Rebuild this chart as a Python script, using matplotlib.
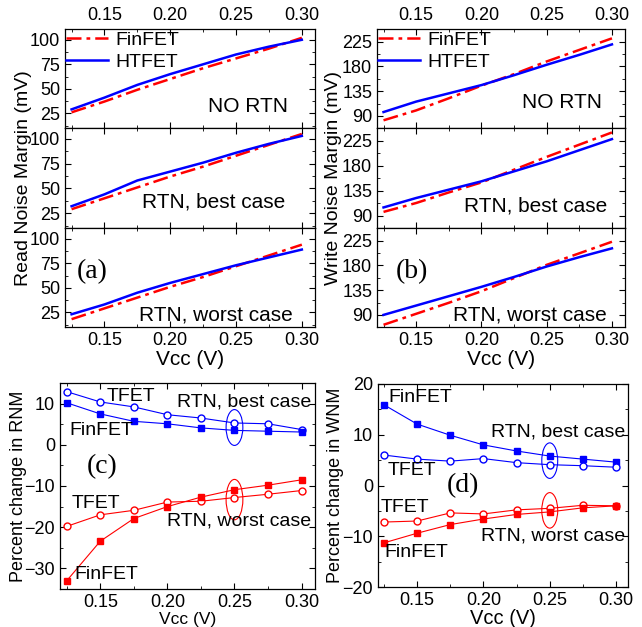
import numpy as np
import matplotlib
matplotlib.use("Agg")
import matplotlib.pyplot as plt
from matplotlib.patches import Ellipse
from matplotlib.ticker import MultipleLocator

plt.rcParams["font.family"] = ["Liberation Sans", "DejaVu Sans"]

# --- data ---
vcc = [0.125, 0.15, 0.175, 0.20, 0.225, 0.25, 0.275, 0.30]

# read noise margin (mV)
rnm_htfet_nortn = [29, 41, 54, 65, 75, 85, 93, 100]
rnm_finfet_nortn = [26, 37, 49, 60, 71, 81, 91, 102]
rnm_htfet_best = [32, 44, 58, 67, 76, 86, 95, 103]
rnm_finfet_best = [29, 40, 51, 62, 72, 83, 94, 105]
rnm_htfet_worst = [23, 33, 45, 55, 64, 73, 81, 89]
rnm_finfet_worst = [18, 29, 40, 51, 61, 72, 83, 94]

# write noise margin (mV)
wnm_htfet_nortn = [97, 116, 131, 146, 164, 183, 201, 220]
wnm_finfet_nortn = [82, 100, 122, 145, 166, 189, 210, 231]
wnm_htfet_best = [105, 122, 137, 152, 170, 188, 208, 228]
wnm_finfet_best = [97, 113, 132, 150, 173, 196, 218, 240]
wnm_htfet_worst = [90, 107, 124, 141, 159, 178, 195, 211]
wnm_finfet_worst = [72, 92, 112, 133, 157, 181, 202, 223]

# percent change in RNM
rnm_tfet_best_pct = [12.9, 10.4, 9.2, 7.3, 6.5, 5.3, 5.1, 3.7]
rnm_finfet_best_pct = [10.2, 7.5, 5.7, 5.1, 4.1, 3.5, 3.3, 3.1]
rnm_tfet_worst_pct = [-19.8, -17.0, -15.9, -13.9, -13.7, -12.8, -12.0, -11.1]
rnm_finfet_worst_pct = [-33.0, -23.4, -17.9, -15.0, -12.7, -10.9, -9.8, -8.5]

# percent change in WNM
wnm_finfet_best_pct = [15.9, 12.1, 9.9, 8.0, 6.8, 5.8, 5.2, 4.6]
wnm_tfet_best_pct = [6.0, 5.2, 4.8, 5.3, 4.5, 4.1, 3.9, 3.6]
wnm_tfet_worst_pct = [-7.2, -7.0, -5.4, -5.6, -4.8, -4.5, -3.9, -4.0]
wnm_finfet_worst_pct = [-11.3, -9.4, -7.7, -6.6, -5.7, -5.2, -4.4, -4.0]

case_labels = ["NO RTN", "RTN, best case", "RTN, worst case"]

RED = "#ff0000"
BLUE = "#0000ff"
W, H = 642, 627

fig = plt.figure(figsize=(W / 100, H / 100), dpi=100)


def px_axes(left, top, right, bottom):
    return fig.add_axes([left / W, 1 - bottom / H, (right - left) / W, (bottom - top) / H])


def style(ax, ymajor, yminor):
    ax.xaxis.set_major_locator(MultipleLocator(0.05))
    ax.xaxis.set_minor_locator(MultipleLocator(0.025))
    ax.yaxis.set_major_locator(MultipleLocator(ymajor))
    ax.yaxis.set_minor_locator(MultipleLocator(yminor))
    ax.tick_params(which="both", direction="in", top=True, right=True, labelsize=13)
    ax.tick_params(which="major", length=4)
    ax.tick_params(which="minor", length=2.5)
    for s in ax.spines.values():
        s.set_linewidth(0.9)


# --- top stacks (a) and (b) ---
tops = [29, 128, 228, 327]
stacks = [
    dict(left=65, right=315, ylim=(10, 111), ymaj=25, ymin=12.5,
         rows=[(rnm_finfet_nortn, rnm_htfet_nortn),
               (rnm_finfet_best, rnm_htfet_best),
               (rnm_finfet_worst, rnm_htfet_worst)],
         lab_pos=[(0.89, 0.16), (0.88, 0.2), (0.91, 0.07)],
         tag="(a)", tag_x=0.045, ylab="Read Noise Margin (mV)", ylab_x=24),
    dict(left=377, right=625, ylim=(68, 248), ymaj=45, ymin=22.5,
         rows=[(wnm_finfet_nortn, wnm_htfet_nortn),
               (wnm_finfet_best, wnm_htfet_best),
               (wnm_finfet_worst, wnm_htfet_worst)],
         lab_pos=[(0.907, 0.2), (0.927, 0.165), (0.927, 0.07)],
         tag="(b)", tag_x=0.075, ylab="Write Noise Margin (mV)", ylab_x=333),
]

for st in stacks:
    for i, (fin, ht) in enumerate(st["rows"]):
        ax = px_axes(st["left"], tops[i], st["right"], tops[i + 1])
        ax.plot(vcc, fin, color=RED, lw=1.8, ls=(0, (6, 2, 1.5, 2)), label="FinFET")
        ax.plot(vcc, ht, color=BLUE, lw=1.8, label="HTFET")
        ax.set_xlim(0.12, 0.31)
        ax.set_ylim(*st["ylim"])
        style(ax, st["ymaj"], st["ymin"])
        ax.tick_params(labelbottom=(i == 2), labeltop=(i == 0))
        tx, ty = st["lab_pos"][i]
        ax.text(tx, ty, case_labels[i], transform=ax.transAxes, ha="right",
                va="baseline", fontsize=15)
        if i == 0:
            ax.legend(loc="upper left", bbox_to_anchor=(-0.005, 1.0), frameon=False,
                      fontsize=14, handlelength=2.2, handletextpad=0.35,
                      borderaxespad=0, borderpad=0.1, labelspacing=0.25)
        if i == 2:
            ax.text(st["tag_x"], 0.56, st["tag"], transform=ax.transAxes, fontsize=20,
                    family=["Liberation Serif"], ha="left", va="center")
            ax.set_xlabel("Vcc (V)", fontsize=15, labelpad=1)
    fig.text(st["ylab_x"] / W, 1 - 178 / H, st["ylab"], rotation=90, ha="center",
             va="center", fontsize=14)

# --- (c) percent change in RNM ---
axc = px_axes(60, 383, 315, 589)
axc.plot(vcc, rnm_tfet_best_pct, color=BLUE, lw=0.8, marker="o", ms=5,
         mfc="white", mec=BLUE, mew=1)
axc.plot(vcc, rnm_finfet_best_pct, color=BLUE, lw=0.8, marker="s", ms=5)
axc.plot(vcc, rnm_tfet_worst_pct, color=RED, lw=0.8, marker="o", ms=5,
         mfc="white", mec=RED, mew=1)
axc.plot(vcc, rnm_finfet_worst_pct, color=RED, lw=0.8, marker="s", ms=5)
axc.add_patch(Ellipse((0.25, 4.2), 0.0125, 8.7, fill=False, ec=BLUE, lw=0.8))
axc.add_patch(Ellipse((0.25, -13.3), 0.0125, 9.8, fill=False, ec=RED, lw=0.8))
axc.set_xlim(0.12, 0.31)
axc.set_ylim(-35, 15)
style(axc, 10, 5)
axc.set_xlabel("Vcc (V)", fontsize=12.5, labelpad=1)
axc.set_ylabel("Percent change in RNM", fontsize=13)
axc.yaxis.set_label_coords(-0.128, 0.5)
axc.text(0.155, 11.8, "TFET", fontsize=14, ha="left", va="center")
axc.text(0.307, 10.5, "RTN, best case", fontsize=14, ha="right", va="center")
axc.text(0.127, 3.4, "FinFET", fontsize=14, ha="left", va="center")
axc.text(0.14, -5.3, "(c)", fontsize=20, family=["Liberation Serif"],
         ha="left", va="center")
axc.text(0.129, -14.2, "TFET", fontsize=14, ha="left", va="center")
axc.text(0.307, -18.6, "RTN, worst case", fontsize=14, ha="right", va="center")
axc.text(0.131, -31.6, "FinFET", fontsize=14, ha="left", va="center")

# --- (d) percent change in WNM ---
axd = px_axes(378, 384, 628, 587)
axd.plot(vcc, wnm_finfet_best_pct, color=BLUE, lw=0.8, marker="s", ms=5)
axd.plot(vcc, wnm_tfet_best_pct, color=BLUE, lw=0.8, marker="o", ms=5,
         mfc="white", mec=BLUE, mew=1)
axd.plot(vcc, wnm_tfet_worst_pct, color=RED, lw=0.8, marker="o", ms=5,
         mfc="white", mec=RED, mew=1)
axd.plot(vcc, wnm_finfet_worst_pct, color=RED, lw=0.8, marker="s", ms=5)
axd.add_patch(Ellipse((0.25, 4.9), 0.012, 7.0, fill=False, ec=BLUE, lw=0.8))
axd.add_patch(Ellipse((0.25, -4.9), 0.012, 7.0, fill=False, ec=RED, lw=0.8))
axd.set_xlim(0.1205, 0.309)
axd.set_ylim(-20, 20)
style(axd, 10, 5)
axd.set_xlabel("Vcc (V)", fontsize=14.5, labelpad=0)
axd.set_ylabel("Percent change in WNM", fontsize=13)
axd.yaxis.set_label_coords(-0.135, 0.5)
axd.text(0.128, 17.3, "FinFET", fontsize=14, ha="left", va="center")
axd.text(0.307, 10.5, "RTN, best case", fontsize=14, ha="right", va="center")
axd.text(0.128, 3.0, "TFET", fontsize=14, ha="left", va="center")
axd.text(0.172, 0.0, "(d)", fontsize=20, family=["Liberation Serif"],
         ha="left", va="center")
axd.text(0.1225, -4.4, "TFET", fontsize=14, ha="left", va="center")
axd.text(0.307, -10.0, "RTN, worst case", fontsize=14, ha="right", va="center")
axd.text(0.125, -13.3, "FinFET", fontsize=14, ha="left", va="center")

fig.savefig("out.png", dpi=100)
